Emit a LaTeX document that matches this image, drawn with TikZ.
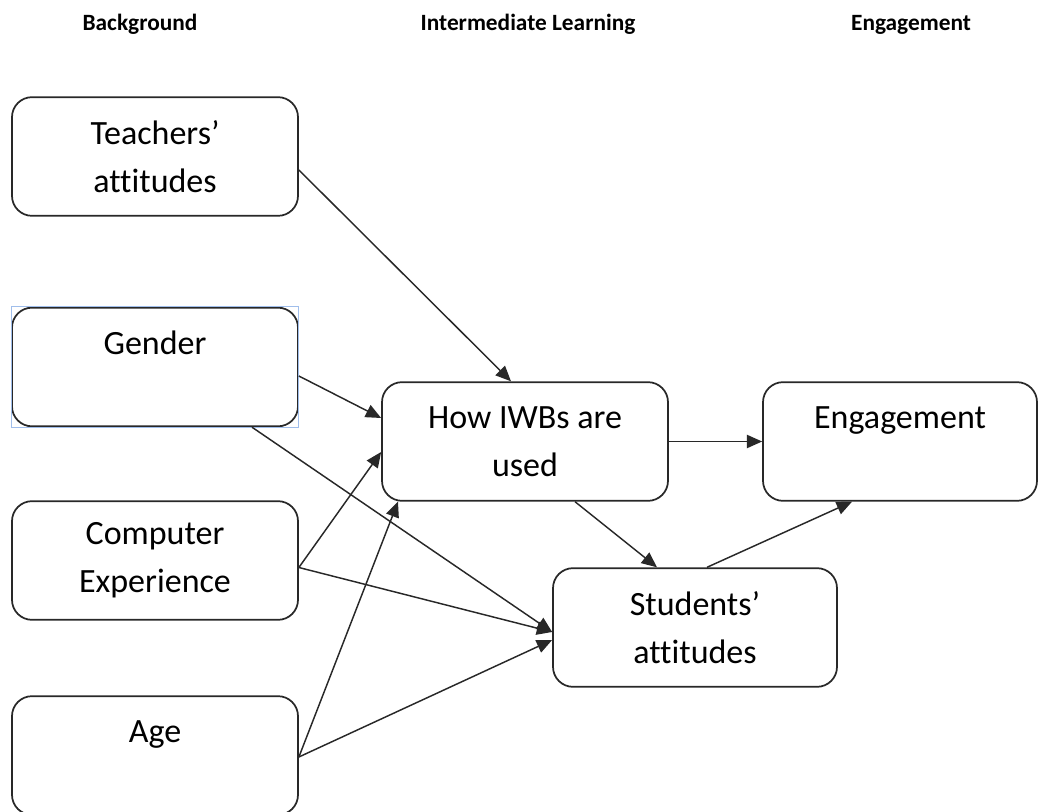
\documentclass[tikz,border=0pt]{standalone}
\usepackage{fontspec}
\setmainfont[Ligatures=NoCommon]{Carlito}
\usetikzlibrary{arrows.meta,calc}
\definecolor{selblue}{RGB}{160,190,235}
\definecolor{edge}{RGB}{40,40,40}
\tikzset{
  box/.style={draw=edge,line width=1.3pt,rounded corners=15pt,minimum width=214.5pt,
    minimum height=89pt,inner sep=0pt,align=center,font=\fontsize{25.5}{36}\selectfont},
  head/.style={anchor=base,font=\fontsize{17.5}{20}\selectfont\bfseries},
  link/.style={-{Triangle[length=11.5pt,width=10pt]},line width=1.1pt,draw=edge},
}
\begin{document}
\begin{tikzpicture}[x=0.75pt,y=-0.75pt]
\useasboundingbox (0,0) rectangle (1038,812);

% column titles
\node[head] (hback) at (140,31) {Background};
\node[head] (hinter) at (528,31) {Intermediate Learning};
\node[head] (heng) at (911,31) {Engagement};

% background factors
\node[box] (teach) at (155,156.5) {Teachers'\\attitudes};
\node[box] (gender) at (155,367) {Gender\\~};
\node[box] (comp) at (155,560.5) {Computer\\Experience};
\node[box] (age) at (155,755.5) {Age\\~};
\draw[selblue,line width=0.6pt] (gender.south west) rectangle (gender.north east);

% intermediate and outcome
\node[box,minimum width=214.5pt] (how) at (525,441.5) {How IWBs are\\used};
\node[box,minimum width=205.5pt] (eng) at (900,441.5) {Engagement\\~};
\node[box,minimum width=213pt] (stud) at (695,627.5) {Students'\\attitudes};

% paths
\draw[link] ($(teach.east)+(0,13.5)$) -- ($(how.north)+(-14,0)$);
\draw[link] ($(gender.east)+(0,9)$) -- ($(how.west)+(0,-23.5)$);
\draw[link] ($(gender.south)+(97,0)$) -- ($(stud.west)+(0,4.5)$);
\draw[link] ($(comp.east)+(0,7)$) -- ($(how.west)+(0,10.5)$);
\draw[link] ($(comp.east)+(0,7)$) -- ($(stud.west)+(0,4.5)$);
\draw[link] ($(age.east)+(0,1.5)$) -- ($(how.south)+(-127,0)$);
\draw[link] ($(age.east)+(0,1.5)$) -- ($(stud.west)+(0,12.5)$);
\draw[link] (how.east) -- (eng.west);
\draw[link] ($(how.south)+(50,0)$) -- ($(stud.north)+(-38,0)$);
\draw[link] ($(stud.north)+(12,0)$) -- ($(eng.south)+(-48,0)$);
\end{tikzpicture}
\end{document}
